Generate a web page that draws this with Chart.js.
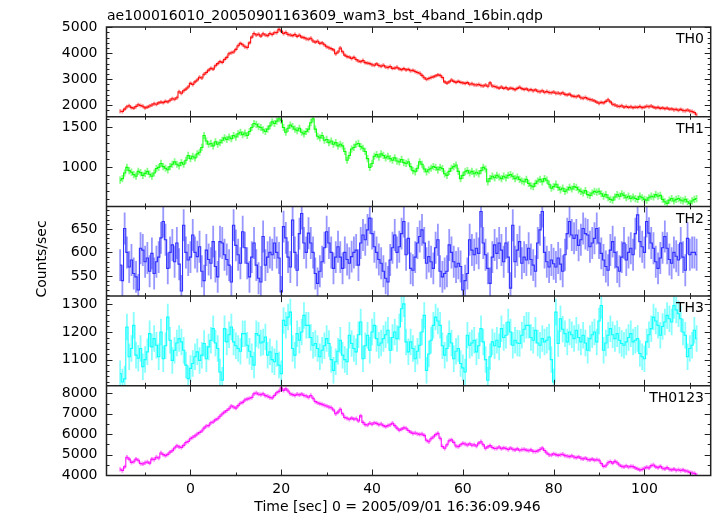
<!DOCTYPE html>
<html>
<head>
<meta charset="utf-8">
<script src="https://cdn.jsdelivr.net/npm/chart.js@4/dist/chart.umd.min.js"></script>
<style>
html,body{margin:0;padding:0;background:#fff;}
#wrap{width:717px;height:516px;}
</style>
</head>
<body>
<div id="wrap"><canvas id="c" width="717" height="516"></canvas></div>
<script>
// ---------------- data ----------------
const titleText = 'ae100016010_20050901163609_wam3_bst_4band_16bin.qdp';
const xLabel = 'Time [sec] 0 = 2005/09/01 16:36:09.946';
const yLabel = 'Counts/sec';
const T0 = -15.5;      // centre of first bin (s)
const BIN = 0.5;       // bin width (s)

const th0 = [1770,1760,1850,1940,1980,1910,1890,1950,2020,1990,
1960,1900,1930,1970,2010,2060,2040,2090,2120,2100,
2150,2130,2190,2250,2230,2290,2520,2460,2560,2620,
2700,2840,2800,2900,2970,3080,3050,3190,3260,3350,
3420,3390,3520,3600,3680,3650,3760,3840,3980,4020,
4050,4150,4290,4380,4330,4250,4220,4400,4620,4760,
4700,4730,4660,4750,4700,4680,4760,4720,4790,4800,
4920,4850,4760,4800,4720,4700,4680,4720,4650,4690,
4620,4600,4560,4540,4580,4470,4430,4460,4380,4400,
4330,4250,4210,4180,4130,3980,4050,4200,4060,3930,
3870,3850,3800,3840,3760,3700,3680,3720,3640,3620,
3600,3560,3540,3590,3530,3500,3540,3470,3450,3490,
3420,3430,3460,3400,3370,3410,3360,3380,3330,3340,
3300,3260,3230,3150,3060,3000,3030,3070,3090,3130,
3170,3150,3070,2900,2850,2900,2970,2920,2880,2920,
2880,2860,2840,2870,2810,2830,2790,2780,2800,2760,
2740,2780,2730,2860,2740,2720,2690,2660,2700,2650,
2680,2620,2660,2640,2600,2650,2690,2640,2610,2630,
2580,2600,2560,2590,2540,2520,2560,2500,2530,2490,
2480,2510,2460,2470,2440,2480,2420,2400,2430,2360,
2340,2330,2360,2290,2270,2300,2250,2220,2200,2170,
2120,2080,2110,2090,2150,2210,2130,2040,2010,1970,
1950,1980,1930,1950,1920,1940,1910,1930,1920,1950,
1910,1930,1960,1940,1970,1930,1900,1920,1880,1900,
1870,1890,1850,1860,1830,1840,1810,1840,1800,1790,
1820,1780,1760,1720,1640];

const th1 = [840,860,930,1000,960,940,910,890,950,935,
900,925,950,915,890,930,985,1000,1050,1010,
990,970,1010,1040,1070,1040,1020,1060,1040,1090,
1150,1110,1140,1120,1170,1190,1250,1400,1330,1290,
1300,1270,1320,1290,1310,1340,1370,1350,1380,1360,
1400,1380,1420,1440,1410,1430,1400,1450,1500,1550,
1540,1510,1500,1470,1450,1480,1520,1570,1550,1580,
1610,1590,1500,1440,1490,1530,1510,1480,1460,1490,
1440,1420,1450,1480,1560,1610,1480,1390,1370,1400,
1340,1350,1310,1330,1290,1310,1270,1290,1270,1200,
1090,1150,1230,1250,1290,1300,1260,1240,1200,1110,
1000,1050,1140,1160,1130,1170,1150,1120,1140,1110,
1090,1120,1080,1070,1100,1060,1050,1070,1010,960,
945,990,1070,1040,980,945,970,990,1010,1000,
970,1000,985,920,900,950,990,1010,1030,950,
860,900,945,960,930,950,920,940,920,960,
1000,980,820,860,890,870,900,880,860,890,
870,900,910,890,860,880,850,830,820,850,
800,770,760,800,830,850,820,860,840,790,
740,760,790,750,720,740,700,720,750,730,
760,750,720,700,680,710,660,650,680,700,
690,700,670,640,660,620,600,590,630,660,
640,670,650,620,640,610,630,610,600,640,
620,600,590,620,640,630,660,640,650,600,
570,550,590,610,580,600,610,590,580,600,
570,550,580,600,610];

const th2 = [573,540,651,600,569,584,555,548,520,609,
605,580,588,560,598,555,580,590,631,666,
627,566,600,616,580,620,575,518,658,600,
584,590,637,600,591,612,560,540,605,585,
577,623,570,548,623,620,595,585,573,537,
658,615,595,577,644,610,577,548,590,620,
573,545,537,634,573,590,600,595,620,600,
588,516,655,631,590,569,669,600,562,640,
683,620,600,641,620,600,555,534,560,580,
610,644,620,600,566,590,612,590,566,600,
585,577,591,600,605,573,620,637,627,648,
673,640,612,600,585,577,560,545,537,584,
610,637,600,612,640,666,595,630,566,562,
590,620,634,648,620,577,591,580,566,610,
627,560,548,555,560,616,600,580,569,577,
570,520,540,555,627,605,595,609,598,687,
620,595,566,534,590,616,598,620,605,580,
620,590,524,658,580,605,623,577,590,584,
609,585,573,560,620,648,687,600,580,569,
584,576,569,588,575,560,595,640,666,637,
630,637,615,627,651,640,637,612,620,630,
651,620,598,584,570,562,605,623,600,569,
560,590,620,584,600,609,595,640,680,623,
612,600,666,641,620,609,580,566,588,610,
634,609,585,577,600,592,584,620,590,562,
630,595,600,600,595];

const th3 = [1049,1019,1030,1218,1110,1140,1224,1116,1105,1140,
1074,1100,1128,1194,1146,1176,1152,1110,1200,1103,
1150,1254,1170,1097,1134,1160,1176,1164,1134,1080,
1031,1068,1086,1110,1128,1097,1116,1158,1103,1146,
1170,1212,1160,1140,1055,1025,1212,1164,1190,1218,
1164,1150,1140,1130,1194,1194,1152,1130,1110,1080,
1194,1188,1160,1164,1182,1116,1128,1100,1092,1122,
1080,1049,1242,1224,1254,1272,1140,1116,1194,1170,
1200,1260,1224,1224,1180,1152,1158,1140,1110,1134,
1150,1176,1158,1100,1061,1092,1130,1170,1116,1100,
1092,1188,1158,1140,1128,1190,1236,1103,1150,1188,
1134,1200,1224,1176,1152,1160,1176,1190,1206,1134,
1180,1200,1176,1218,1284,1302,1164,1128,1164,1140,
1103,1130,1152,1200,1260,1061,1120,1170,1224,1254,
1240,1224,1150,1116,1140,1194,1160,1103,1130,1140,
1086,1070,1055,1188,1152,1160,1170,1128,1150,1212,
1164,1100,1025,1110,1164,1150,1170,1146,1212,1180,
1188,1236,1200,1152,1170,1160,1158,1188,1210,1224,
1224,1180,1170,1206,1160,1152,1176,1164,1170,1182,
1100,1019,1272,1158,1248,1210,1194,1164,1200,1190,
1176,1206,1180,1164,1188,1160,1134,1176,1190,1200,
1164,1240,1296,1134,1160,1188,1212,1190,1176,1194,
1170,1158,1152,1164,1180,1194,1164,1170,1176,1122,
1110,1103,1164,1190,1212,1254,1240,1224,1188,1220,
1236,1260,1248,1236,1296,1280,1266,1248,1200,1188,
1110,1140,1152,1206,1176];

const th0123 = [4280,4220,4400,4870,4780,4620,4650,4780,4720,4560,
4540,4600,4640,4580,4780,4760,4870,4830,5080,5000,
4950,5010,5120,5190,5320,5430,5380,5350,5450,5590,
5640,5780,5850,5920,6010,6080,6160,6300,6400,6420,
6560,6600,6700,6760,6880,6990,7080,7160,7250,7380,
7330,7280,7400,7520,7560,7680,7720,7760,7800,7980,
8020,7960,7940,7980,7890,7860,7800,7780,7900,8030,
8100,8280,8150,8220,8120,7980,7940,7900,7960,7930,
7970,7900,7870,7810,7900,7760,7600,7540,7500,7460,
7420,7380,7330,7300,7190,7000,7080,7220,7000,6820,
6780,6730,6790,6740,6760,6650,6900,6580,6470,6450,
6540,6490,6560,6530,6470,6500,6420,6370,6420,6460,
6540,6420,6300,6200,6250,6310,6290,6180,6100,6040,
6060,6020,5990,6010,5940,5700,5630,5780,5860,5980,
6040,5800,5400,5310,5480,5680,5720,5600,5420,5390,
5480,5550,5520,5470,5530,5460,5480,5420,5560,5630,
5480,5310,5380,5440,5350,5300,5310,5370,5290,5330,
5300,5250,5320,5260,5230,5280,5210,5240,5260,5220,
5190,5230,5160,5150,5180,5250,5320,5200,5080,4990,
4980,5040,5000,4960,4990,5020,4950,4930,4900,4940,
4880,4850,4890,4820,4790,4830,4760,4740,4780,4730,
4750,4720,4560,4420,4450,4600,4660,4580,4670,4600,
4490,4420,4400,4450,4390,4420,4410,4350,4300,4250,
4270,4330,4380,4350,4460,4490,4400,4360,4420,4330,
4300,4360,4280,4250,4290,4230,4260,4220,4250,4200,
4180,4130,4100,4080,4000];

// typical 1-sigma error of each series (counts/sec)
const seriesErr = [75, 45, 34, 48, 105];

// panel axes
const panelNames = ['TH0', 'TH1', 'TH2', 'TH3', 'TH0123'];
const panelMin = [1560, 512, 507, 1005, 3975];
const panelMax = [5010, 1635, 698, 1330, 8373];
const majorTicks = [[2000, 3000, 4000, 5000], [1000, 1500], [550, 600, 650], [1100, 1200, 1300], [4000, 5000, 6000, 7000, 8000]];
const minorStep = [200, 100, 10, 20, 500];
const xTicks = [0, 20, 40, 60, 80, 100];
const xMinorStep = 10;
const xMin = -18.5, xMax = 114.6;

// ---------------- styles ----------------
const FONT = 'DejaVu Sans';
const colors = ['#ff1010', '#10ff10', '#3030ff', '#10ffff', '#ff10ff'];
const series = [th0, th1, th2, th3, th0123];
const times = th0.map((_, i) => T0 + i * BIN);

const datasets = series.map((vals, k) => ({
  label: panelNames[k],
  data: vals.map((v, i) => ({x: times[i], y: v})),
  yAxisID: 'y' + k,
  borderColor: colors[k],
  backgroundColor: colors[k],
  borderWidth: 1.1,
  pointRadius: 0,
  stepped: 'middle',
  errVal: seriesErr[k],
  fill: false
}));

const scales = {
  x: {
    type: 'linear', position: 'bottom', min: xMin, max: xMax,
    grid: {display: false, drawTicks: false}, border: {display: false},
    ticks: {color: '#000', font: {family: FONT, size: 14}, padding: 5, autoSkip: false,
            callback: v => String(v)},
    afterBuildTicks: s => { s.ticks = xTicks.map(v => ({value: v})); },
    afterFit: s => { s.height = 40.5; }
  }
};
panelNames.forEach((name, k) => {
  scales['y' + k] = {
    type: 'linear', position: 'left', stack: 'panels', stackWeight: 1,
    weight: 10 - k,
    min: panelMin[k], max: panelMax[k],
    grid: {display: false, drawTicks: false}, border: {display: false},
    ticks: {color: '#000', font: {family: FONT, size: 14}, padding: 9, autoSkip: false,
            callback: v => String(v)},
    afterBuildTicks: s => { s.ticks = majorTicks[k].map(v => ({value: v})); },
    afterFit: s => { s.width = 106.5; }
  };
});

const qdpPlugin = {
  id: 'qdp',
  beforeDatasetDraw(chart, args) {
    const ctx = chart.ctx, ca = chart.chartArea;
    const ys = chart.scales[args.meta.yAxisID];
    ctx.save();
    ctx.beginPath();
    ctx.rect(ca.left, ys.top, ca.right - ca.left, ys.bottom - ys.top);
    ctx.clip();
  },
  afterDatasetDraw(chart, args) {
    const ctx = chart.ctx;
    const ds = chart.data.datasets[args.index];
    const xs = chart.scales.x, ys = chart.scales[args.meta.yAxisID];
    ctx.strokeStyle = ds.borderColor;
    ctx.globalAlpha = 0.5;
    ctx.lineWidth = 1.8;
    ctx.beginPath();
    ds.data.forEach(p => {
      const px = xs.getPixelForValue(p.x);
      ctx.moveTo(px, ys.getPixelForValue(p.y - ds.errVal));
      ctx.lineTo(px, ys.getPixelForValue(p.y + ds.errVal));
    });
    ctx.stroke();
    ctx.restore();
  },
  afterDraw(chart) {
    const ctx = chart.ctx, ca = chart.chartArea, xs = chart.scales.x;
    ctx.save();
    ctx.strokeStyle = '#222';
    ctx.lineWidth = 1;
    // y ticks, left & right
    panelNames.forEach((name, k) => {
      const ys = chart.scales['y' + k];
      ctx.beginPath();
      const st = minorStep[k];
      for (let v = Math.ceil(panelMin[k] / st) * st; v <= panelMax[k]; v += st) {
        const py = Math.round(ys.getPixelForValue(v)) + 0.5;
        const len = majorTicks[k].includes(v) ? 6 : 3;
        ctx.moveTo(ca.left, py); ctx.lineTo(ca.left + len, py);
        ctx.moveTo(ca.right, py); ctx.lineTo(ca.right - len, py);
      }
      ctx.stroke();
      // x ticks at top and bottom of each panel
      ctx.beginPath();
      for (let v = Math.ceil(xMin / xMinorStep) * xMinorStep; v <= xMax; v += xMinorStep) {
        const px = Math.round(xs.getPixelForValue(v)) + 0.5;
        const len = xTicks.includes(v) ? 6 : 3;
        ctx.moveTo(px, ys.top); ctx.lineTo(px, ys.top + len);
        ctx.moveTo(px, ys.bottom); ctx.lineTo(px, ys.bottom - len);
      }
      ctx.stroke();
    });
    // frame and panel separators
    ctx.lineWidth = 1.5;
    ctx.strokeStyle = '#222';
    ctx.strokeRect(ca.left, ca.top, ca.right - ca.left, ca.bottom - ca.top);
    ctx.beginPath();
    panelNames.forEach((name, k) => {
      if (k === 0) return;
      const ys = chart.scales['y' + k];
      ctx.moveTo(ca.left, ys.top); ctx.lineTo(ca.right, ys.top);
    });
    ctx.stroke();
    // texts
    ctx.fillStyle = '#000';
    ctx.font = '14px "' + FONT + '"';
    ctx.textBaseline = 'alphabetic';
    ctx.textAlign = 'left';
    ctx.fillText(titleText, 107, 19.5);
    ctx.textAlign = 'right';
    panelNames.forEach((name, k) => {
      const ys = chart.scales['y' + k];
      ctx.fillText(name, 704, ys.top + 16.3);
    });
    ctx.textAlign = 'center';
    ctx.fillText(xLabel, 397.5, 511);
    ctx.translate(46, 259);
    ctx.rotate(-Math.PI / 2);
    ctx.fillText(yLabel, 0, 0);
    ctx.restore();
  }
};

new Chart(document.getElementById('c'), {
  type: 'line',
  data: {datasets},
  options: {
    responsive: false,
    animation: false,
    devicePixelRatio: 1,
    layout: {padding: {left: 0, right: 6.3, top: 27, bottom: 0}},
    plugins: {legend: {display: false}, tooltip: {enabled: false}, title: {display: false}},
    scales
  },
  plugins: [qdpPlugin]
});
</script>
</body>
</html>
